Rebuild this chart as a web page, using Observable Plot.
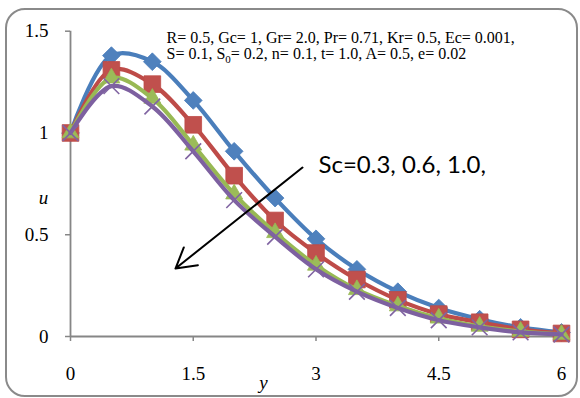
<!DOCTYPE html>
<html>
<head>
<meta charset="utf-8">
<script src="https://cdn.jsdelivr.net/npm/d3@7"></script>
<script src="https://cdn.jsdelivr.net/npm/@observablehq/plot@0.6"></script>
<style>
  html, body { margin: 0; padding: 0; background: #fff; }
  #wrap { position: relative; width: 580px; height: 398px; }
  #box { position: absolute; left: 5px; top: 8px; width: 569px; height: 385px;
         border: 2px solid #8a8a8a; border-radius: 20px; pointer-events: none; }
  #chart { position: absolute; left: 0; top: 0; }
</style>
</head>
<body>
<div id="wrap"><div id="box"></div><div id="chart"></div></div>
<script>
// ---- data ----
const yPos = [0, 0.5, 1, 1.5, 2, 2.5, 3, 3.5, 4, 4.5, 5, 5.5, 6];
const seriesNames = ["Sc=0.3", "Sc=0.6", "Sc=1.0", "Sc=(4th)"];
const uBlue   = [1, 1.38, 1.35, 1.16, 0.91, 0.68, 0.48, 0.33, 0.22, 0.14, 0.085, 0.045, 0.02];
const uRed    = [1, 1.31, 1.24, 1.04, 0.79, 0.57, 0.41, 0.28, 0.18, 0.11, 0.07, 0.035, 0.015];
const uGreen  = [1, 1.27, 1.17, 0.94, 0.70, 0.51, 0.35, 0.23, 0.15, 0.09, 0.05, 0.025, 0.01];
const uPurple = [1, 1.23, 1.13, 0.91, 0.67, 0.49, 0.33, 0.22, 0.14, 0.08, 0.045, 0.02, 0.01];
const xTicks = [0, 1.5, 3, 4.5, 6];
const yTicks = [0, 0.5, 1, 1.5];
const paramLine1 = "R= 0.5, Gc= 1, Gr= 2.0, Pr= 0.71, Kr= 0.5, Ec= 0.001,";
const paramLine2 = "S= 0.1, S_0= 0.2, n= 0.1, t= 1.0, A= 0.5, e= 0.02";
const scLabel = "Sc=0.3, 0.6, 1.0,";
const arrowFrom = [2.835, 0.83];
const arrowTo = [1.283, 0.334];

// ---- build tables ----
const colors = {line: ["#4A7EBB", "#BE4B48", "#98B954", "#7D60A0"], fill: ["#4F81BD", "#C0504D", "#9BBB59", "#8064A2"]};
const allVals = [uBlue, uRed, uGreen, uPurple];
const tables = allVals.map((vals, i) => yPos.map((x, j) => ({series: seriesNames[i], x, u: vals[j]})));

const markerSpec = [
  {symbol: "diamond2", r: 8, fill: colors.fill[0], stroke: colors.line[0], strokeWidth: 0.8},
  {symbol: "square", r: 9.4, fill: colors.fill[1], stroke: colors.line[1], strokeWidth: 0.8},
  {symbol: "triangle", r: 6.3, fill: colors.fill[2], stroke: colors.line[2], strokeWidth: 0.8},
  {symbol: "times", r: 7.2, fill: "none", stroke: colors.fill[3], strokeWidth: 1.6}
];

const seriesMarks = [];
tables.forEach((t, i) => {
  seriesMarks.push(Plot.line(t, {x: "x", y: "u", curve: "catmull-rom", stroke: colors.line[i], strokeWidth: 4.2}));
  seriesMarks.push(Plot.dot(t, {x: "x", y: "u", ...markerSpec[i]}));
});

const chart = Plot.plot({
  width: 580,
  height: 398,
  marginLeft: 70,
  marginRight: 19,
  marginTop: 30.7,
  marginBottom: 62,
  style: {fontFamily: "'Liberation Serif', 'Times New Roman', serif", background: "transparent", color: "#000"},
  x: {domain: [0, 6]},
  y: {domain: [0, 1.5]},
  marks: [
    Plot.axisX({ticks: xTicks, tickFormat: d => String(d), tickSize: 5, tickPadding: 25, fontSize: 19, stroke: "#868686", strokeWidth: 1.5, label: null}),
    Plot.axisY({ticks: yTicks, tickFormat: d => String(d), tickSize: 5, tickPadding: 17, fontSize: 19, stroke: "#868686", strokeWidth: 1.5, label: null}),
    Plot.ruleX([0], {y1: 0, y2: 1.5, stroke: "#868686", strokeWidth: 1.8}),
    Plot.ruleY([0], {x1: 0, x2: 6, stroke: "#868686", strokeWidth: 1.8}),
    ...seriesMarks,
    Plot.arrow([{x1: arrowFrom[0], y1: arrowFrom[1], x2: arrowTo[0], y2: arrowTo[1]}],
      {x1: "x1", y1: "y1", x2: "x2", y2: "y2", stroke: "#000", strokeWidth: 2, headLength: 17, headAngle: 60}),
    Plot.text([paramLine1], {frameAnchor: "top-left", dx: 96, dy: 6.3, textAnchor: "start", lineAnchor: "middle", fontSize: 16, fill: "#000"}),
    Plot.text([paramLine2], {frameAnchor: "top-left", dx: 96, dy: 22.3, textAnchor: "start", lineAnchor: "middle", fontSize: 16, fill: "#000"}),
    Plot.text([scLabel], {frameAnchor: "top-left", dx: 248, dy: 134.3, textAnchor: "start", lineAnchor: "middle", fontSize: 24, fontFamily: "Lato, 'Open Sans', sans-serif", fill: "#000"}),
    Plot.text(["u"], {frameAnchor: "left", dx: -27, dy: 13.6, textAnchor: "middle", lineAnchor: "middle", fontSize: 19, fontStyle: "italic", fill: "#000"}),
    Plot.text(["y"], {frameAnchor: "bottom", dx: -52.5, dy: 46, textAnchor: "middle", lineAnchor: "middle", fontSize: 19, fontStyle: "italic", fill: "#000"})
  ]
});

// subscript for S_0
const ns = "http://www.w3.org/2000/svg";
chart.querySelectorAll("text").forEach(el => {
  if (el.childNodes.length === 1 && el.firstChild.nodeType === 3 && el.textContent.includes("S_0")) {
    const [a, b] = el.textContent.split("S_0");
    el.textContent = a + "S";
    const sub = document.createElementNS(ns, "tspan");
    sub.setAttribute("font-size", "11");
    sub.setAttribute("dy", "4");
    sub.textContent = "0";
    const rest = document.createElementNS(ns, "tspan");
    rest.setAttribute("dy", "-4");
    rest.textContent = b;
    el.appendChild(sub);
    el.appendChild(rest);
  }
});

document.getElementById("chart").appendChild(chart);
</script>
</body>
</html>
